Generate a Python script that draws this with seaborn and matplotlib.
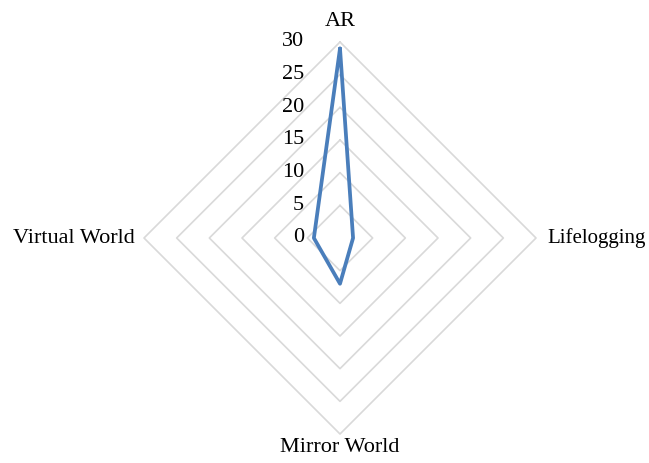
import numpy as np
import pandas as pd
import seaborn as sns
import matplotlib.pyplot as plt

categories = ["AR", "Lifelogging", "Mirror World", "Virtual World"]
values = [29, 2, 7, 4]
levels = [0, 5, 10, 15, 20, 25, 30]

sns.set_theme(style="white")
plt.rcParams["font.family"] = ["Liberation Serif", "DejaVu Serif"]

W, H = 649, 463
cx, cy, R = 340, 238, 196
fig = plt.figure(figsize=(W / 100, H / 100), dpi=100)
ax = fig.add_axes([(cx - R) / W, (H - cy - R) / H, 2 * R / W, 2 * R / H],
                  projection="polar")
ax.set_theta_zero_location("N")
ax.set_theta_direction(-1)
ax.set_ylim(0, levels[-1])
ax.axis("off")

angles = np.linspace(0, 2 * np.pi, len(categories), endpoint=False)
closed = np.append(angles, 2 * np.pi)

# diamond grid
for lv in levels[1:]:
    ax.plot(closed, [lv] * len(closed), color="#d9d9d9", lw=1.2, zorder=1,
            clip_on=False)

df = pd.DataFrame({"theta": closed, "r": values + values[:1]})
sns.lineplot(data=df, x="theta", y="r", sort=False, estimator=None,
             color="#4a7ebb", lw=2.7, ax=ax, zorder=3, clip_on=False)
ax.set_xlabel("")
ax.set_ylabel("")

for lv in levels:
    ax.annotate(str(lv), xy=(0, lv), xytext=(-26, 0), textcoords="offset points",
                ha="right", va="center", fontsize=16, color="#000000")

offsets = [(0, 8, "center", "bottom", 16), (8, 0, "left", "center", 15),
           (0, -3, "center", "top", 16), (-7, 0, "right", "center", 16)]
for a, name, (dx, dy, ha, va, fs) in zip(angles, categories, offsets):
    ax.annotate(name, xy=(a, levels[-1]), xytext=(dx, dy),
                textcoords="offset points", ha=ha, va=va, fontsize=fs,
                color="#000000", annotation_clip=False)

fig.savefig("out.png", dpi=100)
